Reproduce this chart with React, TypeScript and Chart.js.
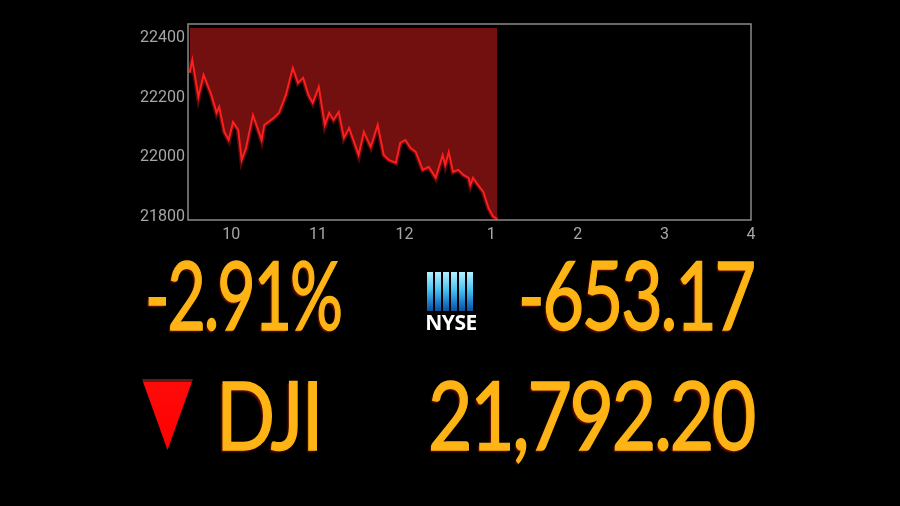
import React, { useEffect, useLayoutEffect, useRef } from "react";
import { Chart, registerables } from "chart.js";
Chart.register(...registerables);

// ---- data ----
const times = [
  9.52, 9.55, 9.62, 9.68, 9.77, 9.83, 9.86, 9.92, 9.97, 10.02, 10.08, 10.12, 10.17, 10.25, 10.31,
  10.35, 10.38, 10.49, 10.55, 10.63, 10.71, 10.77, 10.83, 10.89, 10.94, 11.01, 11.08, 11.13, 11.18,
  11.24, 11.3, 11.36, 11.47, 11.53, 11.61, 11.69, 11.76, 11.82, 11.9, 11.95, 12.01, 12.07, 12.13,
  12.21, 12.28, 12.36, 12.44, 12.47, 12.51, 12.56, 12.62, 12.68, 12.74, 12.76, 12.79, 12.85, 12.91,
  12.97, 13.02, 13.07,
];
const values = [
  22283, 22326, 22202, 22276, 22209, 22149, 22169, 22085, 22058, 22118, 22092, 21991, 22031, 22142,
  22092, 22058, 22108, 22132, 22149, 22209, 22299, 22249, 22266, 22209, 22182, 22236, 22108, 22149,
  22125, 22152, 22065, 22098, 22008, 22085, 22035, 22108, 22008, 21991, 21981, 22048, 22058, 22031,
  22018, 21958, 21968, 21931, 22008, 21974, 22018, 21951, 21958, 21941, 21931, 21907, 21931, 21907,
  21884, 21830, 21803, 21792,
];
const yTicks = [21800, 22000, 22200, 22400];
const xTicks = [10, 11, 12, 13, 14, 15, 16];
const pctChange = "-2.91%";
const ptsChange = "-653.17";
const indexName = "DJI";
const lastValue = "21,792.20";
const exchange = "NYSE";
const nyseBars = [0, 1, 2, 3, 4, 5];

const ORANGE = "#fdb414";
const SHADOW = "-2px 2px 2px rgba(120,20,0,0.9)";

function FitText(props: {
  text: string;
  left: number;
  width: number;
  top: number;
  size: number;
  spacing: number;
}) {
  const ref = useRef<HTMLDivElement>(null);
  useLayoutEffect(() => {
    const el = ref.current;
    if (!el) return;
    el.style.transform = "none";
    const w = el.getBoundingClientRect().width;
    if (w > 0) el.style.transform = `scaleX(${props.width / w})`;
  }, [props.text, props.width]);
  return (
    <div
      ref={ref}
      style={{
        position: "absolute",
        left: props.left,
        top: props.top,
        fontSize: props.size,
        lineHeight: 1,
        whiteSpace: "nowrap",
        display: "inline-block",
        transformOrigin: "left top",
        fontFamily: "Lato, 'Open Sans', sans-serif",
        fontWeight: 400,
        color: ORANGE,
        WebkitTextStroke: `1.5px ${ORANGE}`,
        textShadow: SHADOW,
        letterSpacing: props.spacing,
      }}
    >
      {props.text}
    </div>
  );
}

export default function App() {
  const canvasRef = useRef<HTMLCanvasElement>(null);

  useEffect(() => {
    document.body.style.margin = "0";
    document.body.style.background = "#000";
    const canvas = canvasRef.current;
    if (!canvas) return;
    const pts = times.map((t, i) => ({ x: t, y: values[i] }));
    const frame = {
      id: "frame",
      afterDatasetsDraw(chart: any) {
        const { ctx, chartArea } = chart;
        const { left, top, right, bottom } = chartArea;
        ctx.save();
        ctx.strokeStyle = "#8a8a8a";
        ctx.lineWidth = 1.5;
        ctx.strokeRect(left, top - 4, right - left, bottom - top + 4);
        ctx.restore();
      },
    };
    const tickFont = { family: "Roboto, 'Noto Sans', sans-serif", size: 16 };
    const chart = new Chart(canvas, {
      type: "line",
      data: {
        datasets: [
          {
            data: pts,
            borderColor: "#ff1e1e",
            borderWidth: 2,
            pointRadius: 0,
            tension: 0,
            fill: "end",
            backgroundColor: "#721010",
          },
          {
            data: pts,
            borderColor: "rgba(255,30,30,0.35)",
            borderWidth: 5,
            pointRadius: 0,
            tension: 0,
            fill: false,
          },
        ],
      },
      options: {
        animation: false,
        responsive: true,
        maintainAspectRatio: false,
        layout: { padding: { top: 28, right: 149, left: 0, bottom: 0 } },
        plugins: { legend: { display: false }, tooltip: { enabled: false } },
        scales: {
          x: {
            type: "linear",
            min: 9.5,
            max: 16,
            afterBuildTicks: (s: any) => {
              s.ticks = xTicks.map((v) => ({ value: v }));
            },
            afterFit: (s: any) => {
              s.height = 40;
            },
            grid: { display: false, drawTicks: false },
            border: { display: false },
            ticks: {
              color: "#a6a6a6",
              font: tickFont,
              padding: 5,
              maxRotation: 0,
              callback: (v: any) => String(v > 12 ? v - 12 : v),
            },
          },
          y: {
            min: 21790,
            max: 22433,
            afterBuildTicks: (s: any) => {
              s.ticks = yTicks.map((v) => ({ value: v }));
            },
            afterFit: (s: any) => {
              s.width = 188;
            },
            grid: { display: false, drawTicks: false },
            border: { display: false },
            ticks: { color: "#a6a6a6", font: tickFont, padding: 3, callback: (v: any) => String(v) },
          },
        },
      },
      plugins: [frame],
    });
    return () => chart.destroy();
  }, []);

  return (
    <div
      style={{
        position: "fixed",
        left: 0,
        top: 0,
        width: 900,
        height: 506,
        background: "#000",
        overflow: "hidden",
      }}
    >
      <div style={{ position: "absolute", left: 0, top: 0, width: 900, height: 260 }}>
        <canvas ref={canvasRef} />
      </div>

      <FitText text={pctChange} left={145} width={196} top={246} size={95} spacing={-3} />
      <FitText text={ptsChange} left={518} width={236} top={246} size={95} spacing={-3} />
      <FitText text={indexName} left={216} width={106} top={366} size={95} spacing={-2} />
      <FitText text={lastValue} left={428} width={326} top={366} size={95} spacing={-3} />

      {/* down triangle */}
      <div
        style={{
          position: "absolute",
          left: 142,
          top: 379,
          width: 51,
          height: 71,
          clipPath: "polygon(0 0, 100% 0, 50% 100%)",
          background: "linear-gradient(#5e1c1c 0px, #5e1c1c 3px, #ff0a0a 3px, #ff0000 100%)",
        }}
      />

      {/* NYSE logo */}
      {nyseBars.map((i) => (
        <div
          key={i}
          style={{
            position: "absolute",
            left: 427 + i * 8,
            top: 272,
            width: 6,
            height: 39,
            background: "linear-gradient(#b4f0ff, #49c4f4 45%, #1a78c8 80%, #0b4f9c)",
          }}
        />
      ))}
      <div
        style={{
          position: "absolute",
          left: 425,
          top: 312,
          width: 52,
          textAlign: "center",
          fontFamily: "'Open Sans', sans-serif",
          fontWeight: 700,
          fontSize: 21,
          lineHeight: 1,
          color: "#fff",
          letterSpacing: -0.5,
        }}
      >
        {exchange}
      </div>
    </div>
  );
}
